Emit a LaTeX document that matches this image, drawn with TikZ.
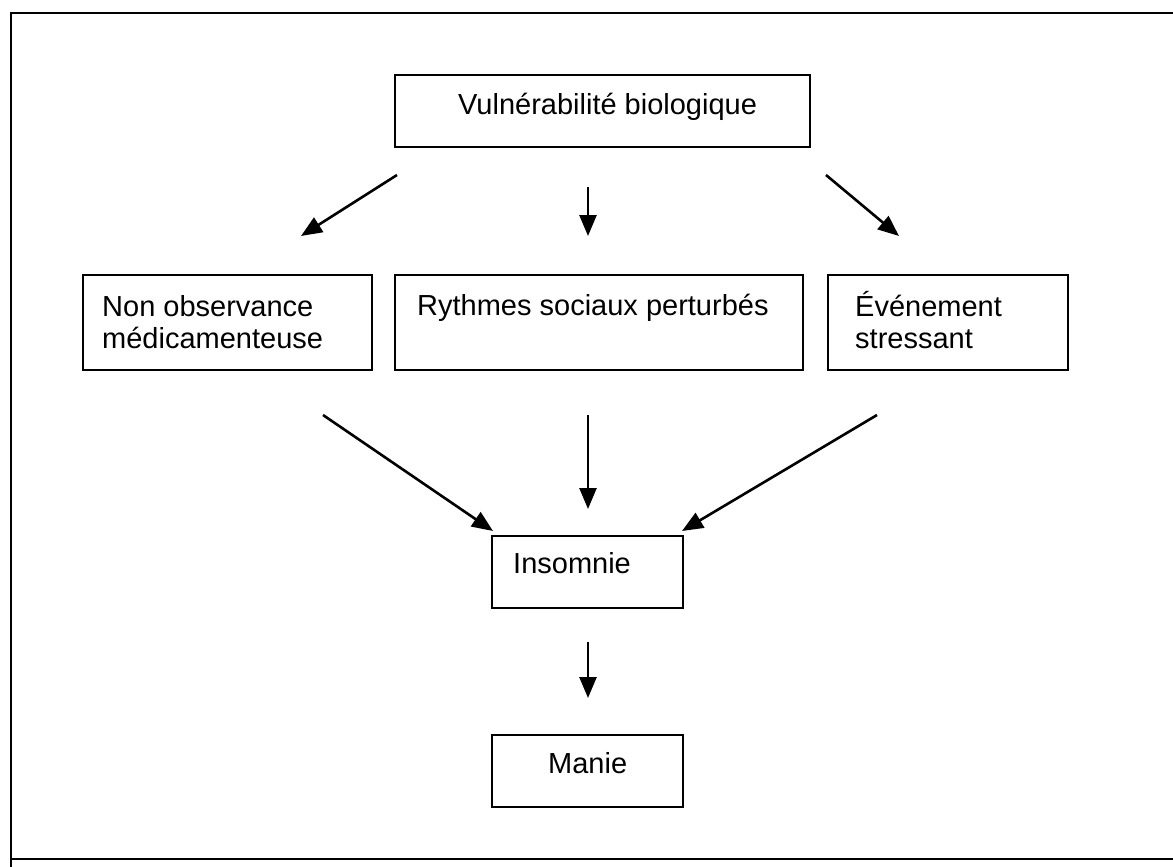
\documentclass[tikz,border=0pt]{standalone}
\usepackage{fontspec}
\setmainfont{Liberation Sans}
\usetikzlibrary{arrows.meta}
\begin{document}
\begin{tikzpicture}[x=1pt,y=-1pt,
  boxline/.style={draw=black,line width=2.8pt},
  txt/.style={anchor=base west,inner sep=0pt,font=\fontsize{29}{32}\selectfont,align=left},
  arr/.style={line width=2.6pt,-{Triangle[length=21pt,width=17pt]}}]
\useasboundingbox (0,0) rectangle (1173,867);
% outer frame (right side cut off)
\draw[line width=2.8pt] (1173,13) -- (11,13) -- (11,867);
\draw[line width=2.8pt] (11,859) -- (1173,859);
% boxes
\draw[boxline] (395,75) rectangle (810,147) node[pos=0.5] (vul) {};
\draw[boxline] (83,275) rectangle (372,370) node[pos=0.5] (non) {};
\draw[boxline] (395,275) rectangle (803,370) node[pos=0.5] (ryt) {};
\draw[boxline] (828,275) rectangle (1068,370) node[pos=0.5] (eve) {};
\draw[boxline] (492,536) rectangle (683,608) node[pos=0.5] (ins) {};
\draw[boxline] (492,735) rectangle (683,807) node[pos=0.5] (man) {};
% texts
\node[txt] (tvul) at (458,114) {Vulnérabilité biologique};
\node[txt] (tnon) at (102,348) {Non observance\\médicamenteuse};
\node[txt] (tryt) at (417,315) {Rythmes sociaux perturbés};
\node[txt] (teve) at (855,348) {Événement\\stressant};
\node[txt] (tins) at (513,573) {Insomnie};
\node[txt] (tman) at (548,773) {Manie};
% arrow end points
\coordinate (a1s) at (397,175); \coordinate (a1e) at (301,236);
\coordinate (a2s) at (588,187); \coordinate (a2e) at (588,236);
\coordinate (a3s) at (826,175); \coordinate (a3e) at (899,236);
\coordinate (b1s) at (323,415); \coordinate (b1e) at (493,531);
\coordinate (b2s) at (588,415); \coordinate (b2e) at (588,509);
\coordinate (b3s) at (877,415); \coordinate (b3e) at (682,531);
\coordinate (c1s) at (588,642); \coordinate (c1e) at (588,698);
\draw[arr] (a1s) -- (a1e);
\draw[arr] (a2s) -- (a2e);
\draw[arr] (a3s) -- (a3e);
\draw[arr] (b1s) -- (b1e);
\draw[arr] (b2s) -- (b2e);
\draw[arr] (b3s) -- (b3e);
\draw[arr] (c1s) -- (c1e);
\end{tikzpicture}
\end{document}
